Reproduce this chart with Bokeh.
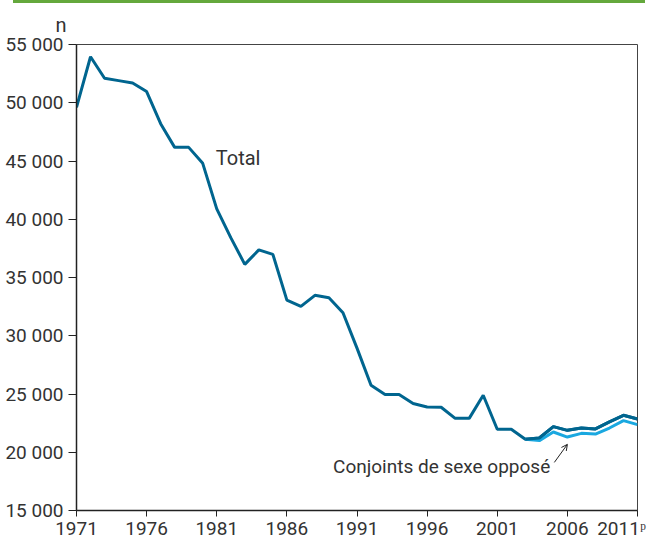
from bokeh.plotting import figure
from bokeh.models import Range1d, FixedTicker, Label, Arrow, OpenHead, Div
from bokeh.layouts import column
from bokeh.embed import file_html
from bokeh.resources import INLINE

# ---- data ----
years = list(range(1971, 2012))
total = [49600, 53950, 52100, 51900, 51700, 50960, 48200, 46170, 46170, 44800,
         40890, 38420, 36130, 37370, 36990, 33060, 32520, 33470, 33260, 31970,
         28940, 25750, 24950, 24950, 24180, 23890, 23860, 22910, 22910, 24890,
         21970, 21970, 21110, 21220, 22200, 21880, 22080, 22000, 22600, 23170,
         22860]
opp_years = list(range(2003, 2012))
opposite_sex = [21110, 21000, 21735, 21305, 21624, 21565, 22080, 22716, 22372]

x_ticks = [1971, 1976, 1981, 1986, 1991, 1996, 2001, 2006, 2011]
x_tick_labels = ["1971", "1976", "1981", "1986", "1991", "1996", "2001", "2006",
                 "2011\u1d56\u2002"]
y_ticks = [15000, 20000, 25000, 30000, 35000, 40000, 45000, 50000, 55000]
y_tick_labels = ["15 000", "20 000", "25 000", "30 000", "35 000", "40 000",
                 "45 000", "50 000", "55 000"]

FONT = "Roboto"
TXT = "#333333"
DARK = "#00658f"
LIGHT = "#1aa8e0"

bar = Div(width=632, height=3, margin=(0, 0, 0, 13),
          styles={"background-color": "#64a83c"})

p = figure(width=655, height=539, output_backend="svg", toolbar_location=None,
           x_range=Range1d(1971, 2011), y_range=Range1d(15000, 55000),
           min_border_left=76, min_border_right=18, min_border_top=41,
           min_border_bottom=30)
p.margin = (0, 0, 0, 0)
p.grid.visible = False
p.outline_line_color = "#444444"
p.outline_line_width = 1
p.background_fill_color = "white"
p.border_fill_color = "white"

# unit label "n" as a left-aligned title pulled over the axis labels
p.title.text = "n"
p.title.align = "left"
p.title.offset = -21
p.title.standoff = 15
p.title.text_font = FONT
p.title.text_font_size = "20px"
p.title.text_font_style = "normal"
p.title.text_color = TXT

p.line(years, total, line_color=DARK, line_width=3)
p.line(opp_years, opposite_sex, line_color=LIGHT, line_width=3)
p.line(years[32:], total[32:], line_color=DARK, line_width=3)

for ax in (p.xaxis[0], p.yaxis[0]):
    ax.axis_line_color = "#222222"
    ax.axis_line_width = 1.5
    ax.major_tick_line_color = "#222222"
    ax.major_tick_in = 0
    ax.minor_tick_line_color = None
    ax.major_label_text_font = FONT
    ax.major_label_text_font_size = "19px"
    ax.major_label_text_color = TXT

p.xaxis[0].ticker = FixedTicker(ticks=x_ticks)
p.xaxis[0].major_label_overrides = dict(zip(x_ticks, x_tick_labels))
p.xaxis[0].major_tick_out = 6
p.xaxis[0].major_label_standoff = 0

p.yaxis[0].ticker = FixedTicker(ticks=y_ticks)
p.yaxis[0].major_label_overrides = dict(zip(y_ticks, y_tick_labels))
p.yaxis[0].major_tick_out = 8
p.yaxis[0].major_label_standoff = 5

p.add_layout(Label(x=1980.93, y=45280, text="Total", text_align="left",
                   text_baseline="alphabetic", text_font=FONT,
                   text_font_size="20px", text_color=TXT))
p.add_layout(Label(x=1989.29, y=18780, text="Conjoints de sexe opposé",
                   text_align="left", text_baseline="alphabetic",
                   text_font=FONT, text_font_size="19px", text_color=TXT))
p.add_layout(Arrow(x_start=2005.07, y_start=19129, x_end=2006.0, y_end=20677,
                   line_color="#222222", line_width=1,
                   end=OpenHead(size=6, line_color="#222222", line_width=1)))

layout = column(bar, p, spacing=0)
open("out.html", "w").write(file_html(layout, INLINE))
